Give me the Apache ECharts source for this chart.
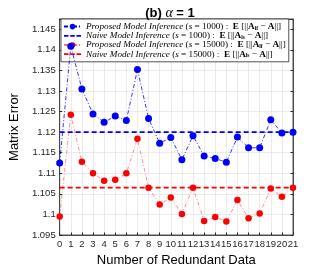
<!DOCTYPE html>
<html><head><meta charset="utf-8">
<script src="https://cdn.jsdelivr.net/npm/echarts@6/dist/echarts.min.js"></script>
<style>html,body{margin:0;padding:0;background:#fff}#c{width:324px;height:272px}</style>
</head><body><div id="c"></div>
<script>
const categories = ['0','1','2','3','4','5','6','7','8','9','10','11','12','13','14','15','16','17','18','19','20','21'];
const proposed1000 = [1.1125,1.1409,1.1305,1.1244,1.1224,1.1239,1.1228,1.1352,1.1233,1.1173,1.1187,1.1133,1.1191,1.1142,1.1136,1.1127,1.1188,1.1162,1.1162,1.1230,1.1198,1.1200];
const naive1000 = [1.1200,1.1200,1.1200,1.1200,1.1200,1.1200,1.1200,1.1200,1.1200,1.1200,1.1200,1.1200,1.1200,1.1200,1.1200,1.1200,1.1200,1.1200,1.1200,1.1200,1.1200,1.1200];
const proposed15000 = [1.0995,1.1242,1.1128,1.1100,1.1082,1.1084,1.1100,1.1184,1.1065,1.1024,1.1041,1.1001,1.1065,1.0984,1.0994,1.0983,1.1035,1.0991,1.1002,1.1063,1.1043,1.1065];
const naive15000 = [1.1065,1.1065,1.1065,1.1065,1.1065,1.1065,1.1065,1.1065,1.1065,1.1065,1.1065,1.1065,1.1065,1.1065,1.1065,1.1065,1.1065,1.1065,1.1065,1.1065,1.1065,1.1065];
const yTicks = [1.095,1.1,1.105,1.11,1.115,1.12,1.125,1.13,1.135,1.14,1.145];
const names = ['Proposed 1000','Naive 1000','Proposed 15000','Naive 15000'];

const legendText = {
  'Proposed 1000': ['Proposed Model Inference','1000','lf'],
  'Naive 1000': ['Naive Model Inference','1000','ls'],
  'Proposed 15000': ['Proposed Model Inference','15000','lf'],
  'Naive 15000': ['Naive Model Inference','15000','ls']
};
const BLUE = '#0000ff', RED = '#ff0000', AX = '#262626';
const dashIcon = 'path://M0,0h4.5v1.8h-4.5z M6.25,0h4.5v1.8h-4.5z M12.5,0h4.5v1.8h-4.5z';
const chart = echarts.init(document.getElementById('c'), null, {renderer:'canvas'});
const ff = 'Liberation Serif';
const FS = 9.2;
chart.setOption({
  animation:false,
  title:{text:'(b) {a|α} = 1', left:165, top:1, textAlign:'center',
    textStyle:{fontFamily:'Liberation Sans', fontSize:13, fontWeight:'bold', color:'#000',
      rich:{a:{fontFamily:'Liberation Serif', fontStyle:'italic', fontSize:14, fontWeight:'normal', color:'#000'}}}},
  grid:{left:42, right:31, top:19, bottom:30, show:true, borderColor:AX, borderWidth:0.8},
  legend:{
    data:[{name:names[0]},{name:names[1], icon:dashIcon},{name:names[2]},{name:names[3], icon:dashIcon}],
    orient:'vertical', left:61, top:19, itemGap:0, itemWidth:17, itemHeight:7,
    padding:[3,3,3,2], borderColor:AX, borderWidth:0.8, backgroundColor:'#fff',
    formatter:function(n){const t=legendText[n];
      return '{i|'+t[0]+' }{n|(}{i|s}{n| = '+t[1]+') :  }{b|E}{n| [||}{b|A}{s|'+t[2]+'}{n| − }{b|A}{n|||]}';},
    textStyle:{fontFamily:ff, fontSize:FS, color:'#000', lineHeight:9.2,
      rich:{
        i:{fontFamily:ff, fontStyle:'italic', fontSize:FS, lineHeight:9.2},
        n:{fontFamily:ff, fontSize:FS, lineHeight:9.2},
        b:{fontFamily:ff, fontWeight:'bold', fontSize:FS, lineHeight:9.2},
        s:{fontFamily:ff, fontWeight:'bold', fontSize:5.5, lineHeight:9.2, verticalAlign:'bottom', padding:[3,0,0,0]}
      }}
  },
  xAxis:[{type:'category', data:categories, boundaryGap:false,
    name:'Number of Redundant Data', nameLocation:'middle', nameGap:19,
    nameTextStyle:{fontFamily:'Liberation Sans', fontSize:13, color:'#000'},
    axisLine:{lineStyle:{color:AX, width:0.8}},
    axisTick:{inside:true, length:2.5, alignWithLabel:true, lineStyle:{color:AX}},
    axisLabel:{fontFamily:'Liberation Sans', fontSize:9.5, color:AX, margin:4, interval:0},
    splitLine:{show:true, lineStyle:{color:'#e6e6e6', width:0.8}}},
   {type:'category', data:categories, boundaryGap:false, position:'top',
    axisLine:{lineStyle:{color:AX, width:0.8}},
    axisTick:{inside:true, length:2.5, lineStyle:{color:AX}}, axisLabel:{show:false}}],
  yAxis:[{type:'value', min:1.095, max:1.1475, interval:0.005,
    name:'Matrix Error', nameLocation:'middle', nameGap:30,
    nameTextStyle:{fontFamily:'Liberation Sans', fontSize:13, color:'#000'},
    axisLine:{show:true, lineStyle:{color:AX, width:0.8}},
    axisTick:{show:true, inside:true, length:2.5, lineStyle:{color:AX}},
    axisLabel:{fontFamily:'Liberation Sans', fontSize:9.5, color:AX, margin:4,
      formatter:function(v){for(const t of yTicks){if(Math.abs(v-t)<1e-7) return String(t);} return '';}},
    splitLine:{show:true, lineStyle:{color:'#e6e6e6', width:0.8}}},
   {type:'value', min:1.095, max:1.1475, interval:0.005, position:'right',
    axisLine:{show:true, lineStyle:{color:AX, width:0.8}},
    axisTick:{show:true, inside:true, length:2.5, lineStyle:{color:AX}},
    axisLabel:{show:false}, splitLine:{show:false}}],
  series:[
    {name:names[0], type:'line', data:proposed1000, symbol:'circle', symbolSize:7,
      itemStyle:{color:BLUE}, lineStyle:{color:BLUE, width:0.8, type:[4,2,1,2]}, z:4},
    {name:names[1], type:'line', data:naive1000, symbol:'none', showSymbol:false,
      itemStyle:{color:BLUE}, lineStyle:{color:BLUE, width:1.8, type:[5,3]}, z:3},
    {name:names[2], type:'line', data:proposed15000, symbol:'circle', symbolSize:6.5,
      itemStyle:{color:RED}, lineStyle:{color:'rgba(255,0,0,0.55)', width:0.8, type:[4,2,1,2]}, z:4},
    {name:names[3], type:'line', data:naive15000, symbol:'none', showSymbol:false,
      itemStyle:{color:RED}, lineStyle:{color:RED, width:1.8, type:[5,3]}, z:3}
  ]
});
</script></body></html>
